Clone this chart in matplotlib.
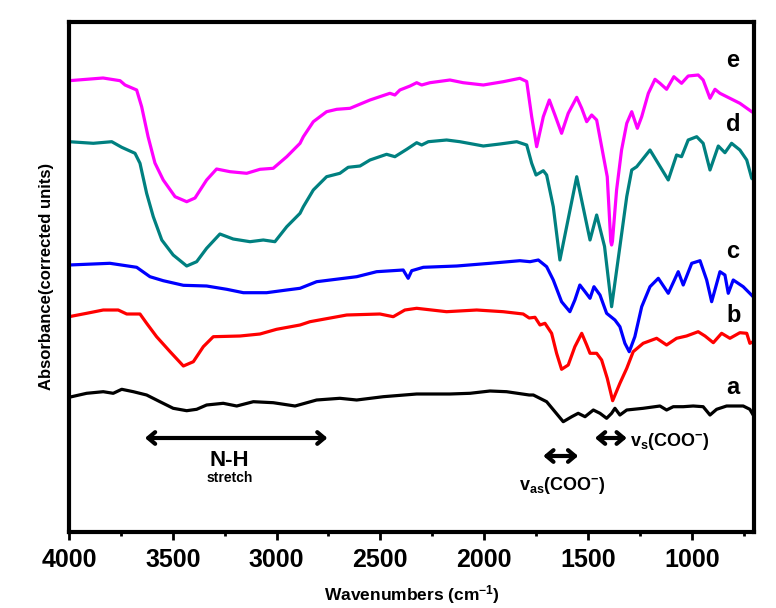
import matplotlib
matplotlib.use("Agg")
import matplotlib.pyplot as plt
from matplotlib.ticker import MultipleLocator

plt.rcParams['font.family'] = ['Liberation Sans', 'DejaVu Sans']
plt.rcParams['mathtext.fontset'] = 'custom'
plt.rcParams['mathtext.rm'] = 'Liberation Sans:bold'
plt.rcParams['mathtext.bf'] = 'Liberation Sans:bold'
plt.rcParams['mathtext.it'] = 'Liberation Sans:bold'

# ---- data (wavenumber in cm-1, absorbance in arbitrary offset units) ----
wn_e = [4000, 3836, 3754, 3730, 3674, 3650, 3619, 3586, 3546, 3489, 3433, 3393, 3337, 3289,
        3224, 3144, 3080, 3016, 2951, 2887, 2871, 2823, 2759, 2710, 2646, 2550, 2454, 2430,
        2406, 2357, 2325, 2301, 2261, 2165, 2101, 2004, 1908, 1828, 1795, 1771, 1747, 1715,
        1686, 1659, 1627, 1595, 1554, 1530, 1506, 1482, 1458, 1434, 1407, 1390, 1386, 1382,
        1362, 1338, 1313, 1289, 1262, 1241, 1209, 1177, 1153, 1121, 1086, 1049, 1017, 969,
        945, 912, 888, 864, 816, 768, 711, 700]
ab_e = [450.8, 453.5, 450.8, 446.5, 441.5, 424.8, 394.8, 368.5, 351.5, 334.8, 329.8, 333.5,
        351.5, 362.5, 359.8, 358.2, 362.2, 363.2, 374.8, 388.2, 394.8, 409.8, 419.8, 422.2,
        423.2, 431.5, 438.2, 436.5, 441.5, 445.5, 448.8, 446.5, 448.8, 451.5, 448.8, 446.5,
        449.8, 453.2, 450.0, 414.8, 384.8, 414.8, 431.5, 416.5, 398.2, 418.2, 434.2, 423.2,
        409.8, 416.5, 411.5, 384.8, 354.8, 290.0, 286.5, 290.0, 341.5, 381.5, 408.2, 419.8,
        403.2, 414.8, 438.2, 452.2, 448.2, 442.2, 454.8, 448.2, 455.5, 456.5, 451.5, 433.2,
        442.2, 438.2, 433.2, 428.2, 419.8, 418.5]

wn_d = [4000, 3883, 3794, 3746, 3682, 3658, 3626, 3594, 3553, 3498, 3433, 3385, 3337, 3273,
        3209, 3128, 3064, 3008, 2951, 2887, 2871, 2823, 2759, 2695, 2655, 2598, 2550, 2470,
        2430, 2373, 2325, 2301, 2269, 2181, 2117, 2004, 1924, 1843, 1795, 1771, 1750, 1715,
        1699, 1667, 1635, 1554, 1490, 1458, 1420, 1386, 1346, 1313, 1289, 1265, 1201, 1113,
        1073, 1049, 1017, 976, 945, 912, 872, 840, 808, 768, 735, 711, 700]
ab_d = [389.8, 388.2, 389.8, 384.2, 378.2, 368.2, 338.2, 314.8, 291.5, 276.5, 265.5, 269.8,
        283.2, 297.5, 292.5, 289.8, 291.5, 289.8, 304.8, 318.2, 324.8, 341.5, 354.8, 358.2,
        364.2, 365.5, 371.5, 377.2, 374.8, 382.2, 388.8, 386.5, 389.8, 391.5, 389.8, 385.5,
        387.5, 389.8, 386.5, 368.2, 356.5, 360.8, 356.5, 324.8, 271.5, 354.8, 291.5, 316.5,
        285.0, 224.8, 285.0, 335.0, 361.5, 364.8, 381.5, 351.5, 376.5, 374.8, 391.5, 394.8,
        388.2, 361.5, 385.5, 378.8, 388.2, 381.5, 371.5, 353.2, 351.5]

wn_c = [4000, 3803, 3674, 3610, 3546, 3449, 3337, 3240, 3160, 3048, 2951, 2887, 2807, 2614,
        2518, 2390, 2366, 2349, 2293, 2132, 1972, 1828, 1779, 1739, 1699, 1667, 1627, 1587,
        1563, 1539, 1514, 1490, 1471, 1442, 1410, 1370, 1346, 1322, 1301, 1274, 1241, 1201,
        1161, 1113, 1065, 1041, 1000, 960, 928, 904, 864, 840, 824, 800, 752, 704, 700]
ab_c = [266.5, 268.2, 264.2, 254.8, 250.8, 246.2, 245.5, 242.2, 238.8, 238.8, 241.5, 243.2,
        249.8, 254.8, 259.8, 261.5, 253.2, 260.8, 264.2, 265.5, 268.2, 270.8, 269.8, 271.5,
        264.8, 251.5, 229.8, 219.8, 231.5, 246.5, 239.8, 233.2, 244.8, 236.5, 218.2, 211.5,
        204.8, 188.2, 179.8, 194.8, 224.8, 244.8, 253.2, 238.2, 259.8, 246.5, 268.2, 270.8,
        251.5, 229.8, 259.8, 256.5, 238.2, 251.5, 244.8, 234.8, 234.0]

wn_b = [4000, 3915, 3835, 3763, 3722, 3658, 3626, 3578, 3513, 3449, 3401, 3353, 3305, 3176,
        3080, 3000, 2887, 2839, 2662, 2502, 2438, 2382, 2325, 2181, 2036, 1908, 1812, 1783,
        1755, 1731, 1707, 1675, 1651, 1627, 1595, 1563, 1530, 1506, 1490, 1458, 1434, 1407,
        1381, 1346, 1313, 1282, 1234, 1169, 1121, 1073, 1025, 969, 936, 896, 856, 816, 768,
        735, 720, 704, 700]
ab_b = [214.8, 218.2, 221.5, 221.5, 217.5, 217.5, 208.2, 194.8, 179.8, 165.5, 169.8, 184.8,
        194.8, 195.5, 197.5, 202.2, 206.5, 209.8, 216.5, 217.5, 214.8, 221.5, 223.2, 219.8,
        221.5, 219.8, 217.5, 213.5, 214.2, 206.5, 208.2, 198.2, 178.2, 162.2, 166.5, 184.8,
        198.2, 186.5, 178.2, 178.2, 171.5, 153.2, 130.8, 148.2, 163.2, 179.8, 188.2, 193.2,
        186.5, 193.2, 195.5, 199.8, 195.5, 188.8, 198.2, 193.2, 198.8, 198.2, 188.2, 189.8,
        190.0]

wn_a = [4000, 3915, 3835, 3787, 3746, 3690, 3626, 3562, 3498, 3433, 3385, 3337, 3257, 3192,
        3112, 3016, 2911, 2807, 2695, 2614, 2486, 2325, 2165, 2068, 1972, 1892, 1783, 1763,
        1699, 1659, 1619, 1578, 1547, 1514, 1474, 1442, 1410, 1386, 1370, 1346, 1313, 1234,
        1153, 1121, 1089, 1041, 993, 945, 912, 880, 832, 752, 720, 704, 700]
ab_a = [134.2, 138.2, 139.8, 138.2, 142.2, 139.8, 136.5, 129.8, 123.2, 120.8, 122.2, 126.5,
        128.2, 125.5, 129.8, 128.8, 125.5, 131.5, 133.2, 131.5, 134.8, 137.5, 137.5, 138.2,
        140.5, 139.8, 136.5, 136.5, 129.8, 119.8, 109.8, 114.8, 118.2, 114.8, 121.5, 118.2,
        113.2, 118.2, 123.2, 116.5, 121.5, 123.2, 125.5, 121.5, 124.8, 124.8, 125.5, 124.8,
        116.5, 122.2, 125.5, 125.5, 122.2, 116.5, 116.0]

series = [
    (wn_a, ab_a, "black", "a"),
    (wn_b, ab_b, "#ff0000", "b"),
    (wn_c, ab_c, "#0000ff", "c"),
    (wn_d, ab_d, "#008080", "d"),
    (wn_e, ab_e, "#ff00ff", "e"),
]
label_pos = {"a": (802, 137.5), "b": (798, 209.8), "c": (802, 273.2),
             "d": (802, 400.8), "e": (802, 464.8)}

xticks_major = [4000, 3500, 3000, 2500, 2000, 1500, 1000]

fig = plt.figure(figsize=(7.76, 6.08), dpi=100)
ax = fig.add_axes([69 / 776, 1 - 531.5 / 608, (754 - 69) / 776, (531.5 - 22) / 608])

for wn, ab, col, lab in series:
    ax.plot(wn, ab, color=col, lw=2.3, solid_joinstyle='round')
    lx, ly = label_pos[lab]
    ax.text(lx, ly, lab, ha='center', va='baseline', fontsize=17, fontweight='bold')

ax.set_xlim(4000, 700)
ax.set_ylim(0, 509.5)
ax.set_xticks(xticks_major)
ax.set_xticklabels([str(t) for t in xticks_major])
ax.xaxis.set_minor_locator(MultipleLocator(250))
ax.set_yticks([])
ax.tick_params(axis='x', which='major', direction='out', length=6, width=2, pad=6,
               labelsize=18)
ax.tick_params(axis='x', which='minor', direction='out', length=3, width=2)
for lbl in ax.get_xticklabels():
    lbl.set_fontweight('bold')
for sp in ax.spines.values():
    sp.set_linewidth(3)

ax.set_xlabel('Wavenumbers (cm$^{-1}$)', fontsize=12.5, fontweight='bold', labelpad=8)
ax.set_ylabel('Absorbance(corrected units)', fontsize=12, fontweight='bold', labelpad=11)

# annotations
arrow_kw = dict(arrowstyle='<->,head_length=0.5,head_width=0.42', lw=3, color='black',
                shrinkA=0, shrinkB=0)
ax.annotate('', xy=(3634, 93.5), xytext=(2755, 93.5), arrowprops=arrow_kw)
ax.text(3229, 65.5, 'N-H', ha='center', va='baseline', fontsize=16, fontweight='bold')
ax.text(3224, 49.5, 'stretch', ha='center', va='baseline', fontsize=10, fontweight='bold')

ax.annotate('', xy=(1715, 75.5), xytext=(1547, 75.5), arrowprops=arrow_kw)
ax.text(1625, 41, r'v$_{as}$(COO$^{-}$)', ha='center', va='baseline', fontsize=13,
        fontweight='bold')
ax.annotate('', xy=(1466, 93.5), xytext=(1313, 93.5), arrowprops=arrow_kw)
ax.text(1298, 85.5, r'v$_{s}$(COO$^{-}$)', ha='left', va='baseline', fontsize=13,
        fontweight='bold')

fig.savefig('out.png', dpi=100)
